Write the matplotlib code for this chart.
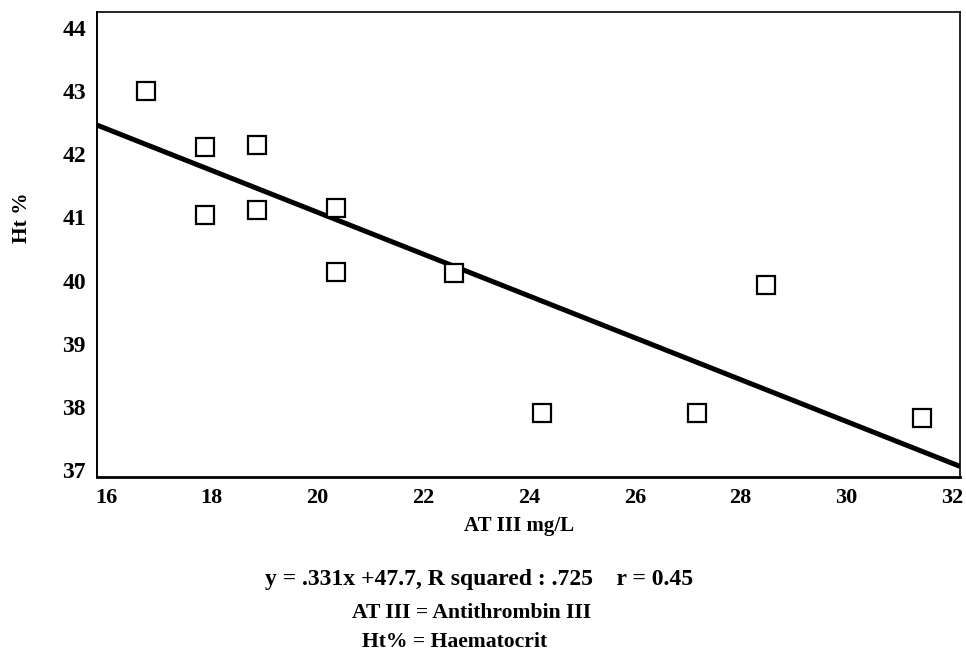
import matplotlib
matplotlib.use("Agg")
import matplotlib.pyplot as plt
import numpy as np

# Data
at3 = [16.75, 17.87, 17.87, 18.85, 18.85, 20.35, 20.35, 22.58, 24.24, 27.17, 28.48, 31.43]
ht = [43.0, 42.11, 41.03, 42.14, 41.11, 41.15, 40.13, 40.12, 37.91, 37.91, 39.93, 37.82]
slope = -0.331
intercept = 47.7
xticks = [16, 18, 20, 22, 24, 26, 28, 30, 32]
yticks = [37, 38, 39, 40, 41, 42, 43, 44]
caption = ["y = .331x +47.7, R squared : .725    r = 0.45",
           "AT III = Antithrombin III",
           "Ht% = Haematocrit"]

plt.rcParams['font.family'] = ['Liberation Serif', 'DejaVu Serif']
plt.rcParams['font.weight'] = 'bold'

W, H = 966, 659
fig = plt.figure(figsize=(W / 100, H / 100), dpi=100)
l, r, t, b = 97, 960, 12, 477
ax = fig.add_axes([l / W, 1 - b / H, (r - l) / W, (b - t) / H])

xlim = (15.83, 32.15)
ax.set_xlim(*xlim)
ax.set_ylim(36.89, 44.25)

xs = np.array(xlim)
ax.plot(xs, intercept + slope * xs, color='black', lw=3.6, solid_capstyle='butt', zorder=2)
ax.plot(at3, ht, linestyle='none', marker='s', markersize=12.5, markerfacecolor='white',
        markeredgecolor='black', markeredgewidth=1.6, zorder=3)

ax.set_xticks(xticks)
ax.set_yticks(yticks)
ax.set_xticklabels([str(v) for v in xticks], fontsize=16, fontweight='bold')
ax.set_yticklabels([str(v) for v in yticks], fontsize=17, fontweight='bold')
ax.tick_params(axis='both', length=0)
ax.tick_params(axis='x', pad=8)
ax.tick_params(axis='y', pad=8)

for side in ['top', 'right']:
    ax.spines[side].set_linewidth(1.2)
ax.spines['left'].set_linewidth(1.4)
ax.spines['bottom'].set_linewidth(2.0)

fig.text(519 / W, 1 - 531 / H, "AT III mg/L", ha='center', va='baseline', fontsize=15, fontweight='bold')
fig.text(22 / W, 1 - 218 / H, "Ht %", ha='center', va='center', rotation=90, fontsize=15.5, fontweight='bold')

cap_x = [479, 472, 455]
cap_y = [585, 618, 647]
cap_fs = [17, 15.6, 15.6]
for txt, cx, cy, fs in zip(caption, cap_x, cap_y, cap_fs):
    fig.text(cx / W, 1 - cy / H, txt, ha='center', va='baseline', fontsize=fs, fontweight='bold')

fig.savefig("out.png", dpi=100)
